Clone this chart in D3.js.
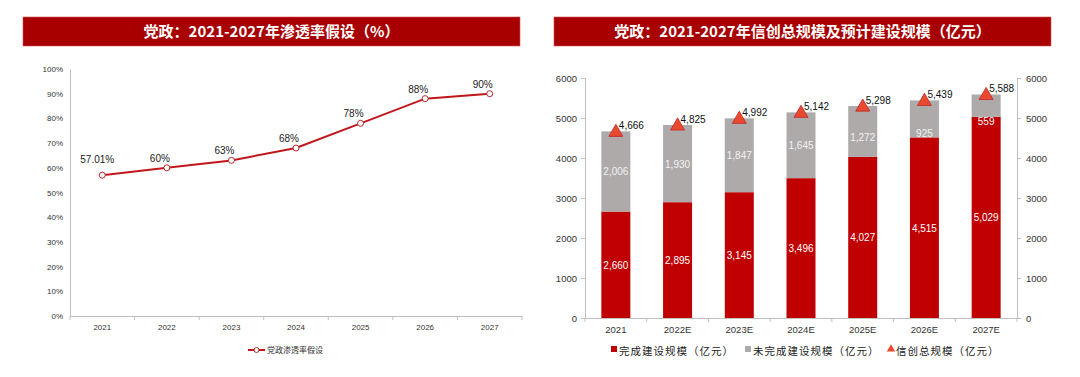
<!DOCTYPE html>
<html>
<head>
<meta charset="utf-8">
<script src="https://cdn.jsdelivr.net/npm/d3@7"></script>
<style>
  body { margin: 0; background: #fff; }
  svg { display: block; }
  text { font-family: "Liberation Sans Narrow", "Liberation Sans", Arial, sans-serif; }
  .cjk { font-family: "Noto Sans CJK SC", sans-serif; }
</style>
</head>
<body>
<div id="graph"></div>
<script>
// left chart
var years = ['2021', '2022', '2023', '2024', '2025', '2026', '2027']
var rate = [57.01, 60, 63, 68, 78, 88, 90]
var rateLabels = ['57.01%', '60%', '63%', '68%', '78%', '88%', '90%']
var rateTicks = [0, 10, 20, 30, 40, 50, 60, 70, 80, 90, 100]

// right chart
var years2 = ['2021', '2022E', '2023E', '2024E', '2025E', '2026E', '2027E']
var done = [2660, 2895, 3145, 3496, 4027, 4515, 5029]
var todo = [2006, 1930, 1847, 1645, 1272, 925, 559]
var total = [4666, 4825, 4992, 5142, 5298, 5439, 5588]
var scaleTicks = [0, 1000, 2000, 3000, 4000, 5000, 6000]

var red = '#c00000'
var gray = '#aeaaaa'
var titleRed = '#a80000'
var axisColor = '#bfbfbf'
var fmt = d3.format(',')

var svg = d3.select('#graph').append('svg')
  .attr('width', 1080).attr('height', 377)

function titleBar(x0, x1, label){
  svg.append('rect')
    .attr('x', x0).attr('y', 17).attr('width', x1 - x0).attr('height', 29)
    .attr('fill', titleRed).attr('stroke', '#d9534f').attr('stroke-width', 0.6)
  svg.append('text').attr('class', 'cjk')
    .attr('x', (x0 + x1) / 2).attr('y', 37)
    .attr('text-anchor', 'middle').attr('fill', '#fff')
    .attr('font-size', 15).attr('font-weight', 'bold')
    .text(label)
}

titleBar(23, 520, '党政：2021-2027年渗透率假设（%）')
titleBar(554, 1051, '党政：2021-2027年信创总规模及预计建设规模（亿元）')

// ---------- left: penetration line ----------
var L = {left: 70, right: 522, top: 69, bottom: 316}
var x1 = d3.scaleBand().domain(years).range([L.left, L.right])
var y1 = d3.scaleLinear().domain([0, 100]).range([L.bottom, L.top])

var gl = svg.append('g')

var yAxisL = gl.append('g')
  .attr('transform', `translate(${L.left},0)`)
  .call(d3.axisLeft(y1).tickValues(rateTicks).tickSize(0).tickPadding(7).tickFormat(d => d + '%'))
yAxisL.select('.domain').attr('stroke', axisColor)
yAxisL.selectAll('text').attr('font-size', 8).attr('fill', '#333')

var xAxisL = gl.append('g')
  .attr('transform', `translate(0,${L.bottom})`)
  .call(d3.axisBottom(x1).tickSize(0).tickPadding(8))
xAxisL.select('.domain').attr('stroke', axisColor)
xAxisL.selectAll('text').attr('font-size', 8).attr('fill', '#333')
xAxisL.selectAll('.sep').data(years.concat(['end'])).join('line')
  .attr('x1', (d, i) => L.left + i * x1.bandwidth())
  .attr('x2', (d, i) => L.left + i * x1.bandwidth())
  .attr('y1', 0).attr('y2', 4).attr('stroke', axisColor)

var line = d3.line()
  .x((d, i) => x1(years[i]) + x1.bandwidth() / 2)
  .y(d => y1(d))

gl.append('path')
  .attr('d', line(rate))
  .attr('fill', 'none').attr('stroke', '#c0161c').attr('stroke-width', 2)

gl.selectAll('circle.pt').data(rate).join('circle')
  .attr('cx', (d, i) => x1(years[i]) + x1.bandwidth() / 2)
  .attr('cy', d => y1(d))
  .attr('r', 3).attr('fill', '#fff').attr('stroke', '#b5262b').attr('stroke-width', 1)

gl.selectAll('text.lbl').data(rate).join('text')
  .attr('x', (d, i) => x1(years[i]) + x1.bandwidth() / 2 - (i == 0 ? 5 : 7))
  .attr('y', (d, i) => y1(d) - (i == 0 ? 12 : 6))
  .attr('text-anchor', 'middle').attr('font-size', 10).attr('fill', '#222')
  .text((d, i) => rateLabels[i])

// legend
var legL = gl.append('g').attr('transform', 'translate(248,350)')
legL.append('line').attr('x1', 0).attr('x2', 17).attr('stroke', '#c0161c').attr('stroke-width', 2)
legL.append('circle').attr('cx', 8.5).attr('r', 2.5).attr('fill', '#fff').attr('stroke', '#b5262b')
legL.append('text').attr('class', 'cjk').attr('x', 19).attr('y', 3)
  .attr('font-size', 8).attr('fill', '#333').text('党政渗透率假设')

// ---------- right: stacked bars ----------
var R = {left: 585, right: 1017, top: 78, bottom: 318}
var x2 = d3.scaleBand().domain(years2).range([R.left, R.right]).paddingInner(0.53).paddingOuter(0.265)
var xb = d3.scaleBand().domain(years2).range([R.left, R.right])
var y2 = d3.scaleLinear().domain([0, 6000]).range([R.bottom, R.top])

var gr = svg.append('g')

var yAxisR1 = gr.append('g')
  .attr('transform', `translate(${R.left},0)`)
  .call(d3.axisLeft(y2).tickValues(scaleTicks).tickSize(4).tickPadding(4).tickFormat(d3.format('d')))
var yAxisR2 = gr.append('g')
  .attr('transform', `translate(${R.right},0)`)
  .call(d3.axisRight(y2).tickValues(scaleTicks).tickSize(4).tickPadding(5).tickFormat(d3.format('d')))
;[yAxisR1, yAxisR2].forEach(a => {
  a.selectAll('.domain').attr('stroke', axisColor)
  a.selectAll('.tick line').attr('stroke', axisColor)
  a.selectAll('text').attr('font-size', 9.5).attr('fill', '#333')
})

var xAxisR = gr.append('g')
  .attr('transform', `translate(0,${R.bottom})`)
  .call(d3.axisBottom(xb).tickSize(0).tickPadding(8))
xAxisR.select('.domain').attr('stroke', axisColor)
xAxisR.selectAll('text').attr('font-size', 9.5).attr('fill', '#333')
xAxisR.selectAll('.sep').data(years2.concat(['end'])).join('line')
  .attr('x1', (d, i) => R.left + i * xb.bandwidth())
  .attr('x2', (d, i) => R.left + i * xb.bandwidth())
  .attr('y1', 0).attr('y2', 4).attr('stroke', axisColor)

// completed
gr.selectAll('rect.done').data(done).join('rect')
  .attr('x', (d, i) => x2(years2[i]))
  .attr('width', x2.bandwidth())
  .attr('y', d => y2(d))
  .attr('height', d => y2(0) - y2(d))
  .attr('fill', red)

// not completed
gr.selectAll('rect.todo').data(todo).join('rect')
  .attr('x', (d, i) => x2(years2[i]))
  .attr('width', x2.bandwidth())
  .attr('y', (d, i) => y2(done[i] + d))
  .attr('height', (d, i) => y2(done[i]) - y2(done[i] + d))
  .attr('fill', gray)

gr.selectAll('text.dl').data(done).join('text')
  .attr('x', (d, i) => x2(years2[i]) + x2.bandwidth() / 2)
  .attr('y', d => y2(d / 2) + 4)
  .attr('text-anchor', 'middle').attr('font-size', 10).attr('fill', '#fff')
  .text(d => fmt(d))

gr.selectAll('text.tl').data(todo).join('text')
  .attr('x', (d, i) => x2(years2[i]) + x2.bandwidth() / 2)
  .attr('y', (d, i) => y2(done[i] + d / 2) + 4 + (d < 1500 ? Math.min(15, (1500 - d) / 40) : 0))
  .attr('text-anchor', 'middle').attr('font-size', 10).attr('fill', '#f2f2f2')
  .text(d => fmt(d))

// total triangles
var tri = d3.symbol().type(d3.symbolTriangle).size(85)
gr.selectAll('path.tri').data(total).join('path')
  .attr('d', tri)
  .attr('transform', (d, i) => `translate(${xb(years2[i]) + xb.bandwidth() / 2},${y2(d) + 1})`)
  .attr('fill', '#e8492f').attr('stroke', '#c1272d').attr('stroke-width', 0.8)

gr.selectAll('text.tot').data(total).join('text')
  .attr('x', (d, i) => xb(years2[i]) + xb.bandwidth() / 2 + 3)
  .attr('y', d => y2(d) - 2)
  .attr('font-size', 10).attr('fill', '#111')
  .text(d => fmt(d))

// legend
var legR = gr.append('g').attr('transform', 'translate(0,352)')
var legItems = [
  {x: 611, label: '完成建设规模（亿元）', kind: 'rect', color: red},
  {x: 745, label: '未完成建设规模（亿元）', kind: 'rect', color: gray},
  {x: 888, label: '信创总规模（亿元）', kind: 'tri', color: '#e8492f'}
]
legItems.forEach(d => {
  if (d.kind == 'rect'){
    legR.append('rect').attr('x', d.x).attr('y', -6).attr('width', 6).attr('height', 6).attr('fill', d.color)
  } else {
    legR.append('path').attr('d', d3.symbol().type(d3.symbolTriangle).size(30))
      .attr('transform', `translate(${d.x + 3},-3)`).attr('fill', d.color)
  }
  legR.append('text').attr('class', 'cjk').attr('x', d.x + 8).attr('y', 3)
    .attr('font-size', 10.5).attr('letter-spacing', 1).attr('fill', '#222').text(d.label)
})
</script>
</body>
</html>
